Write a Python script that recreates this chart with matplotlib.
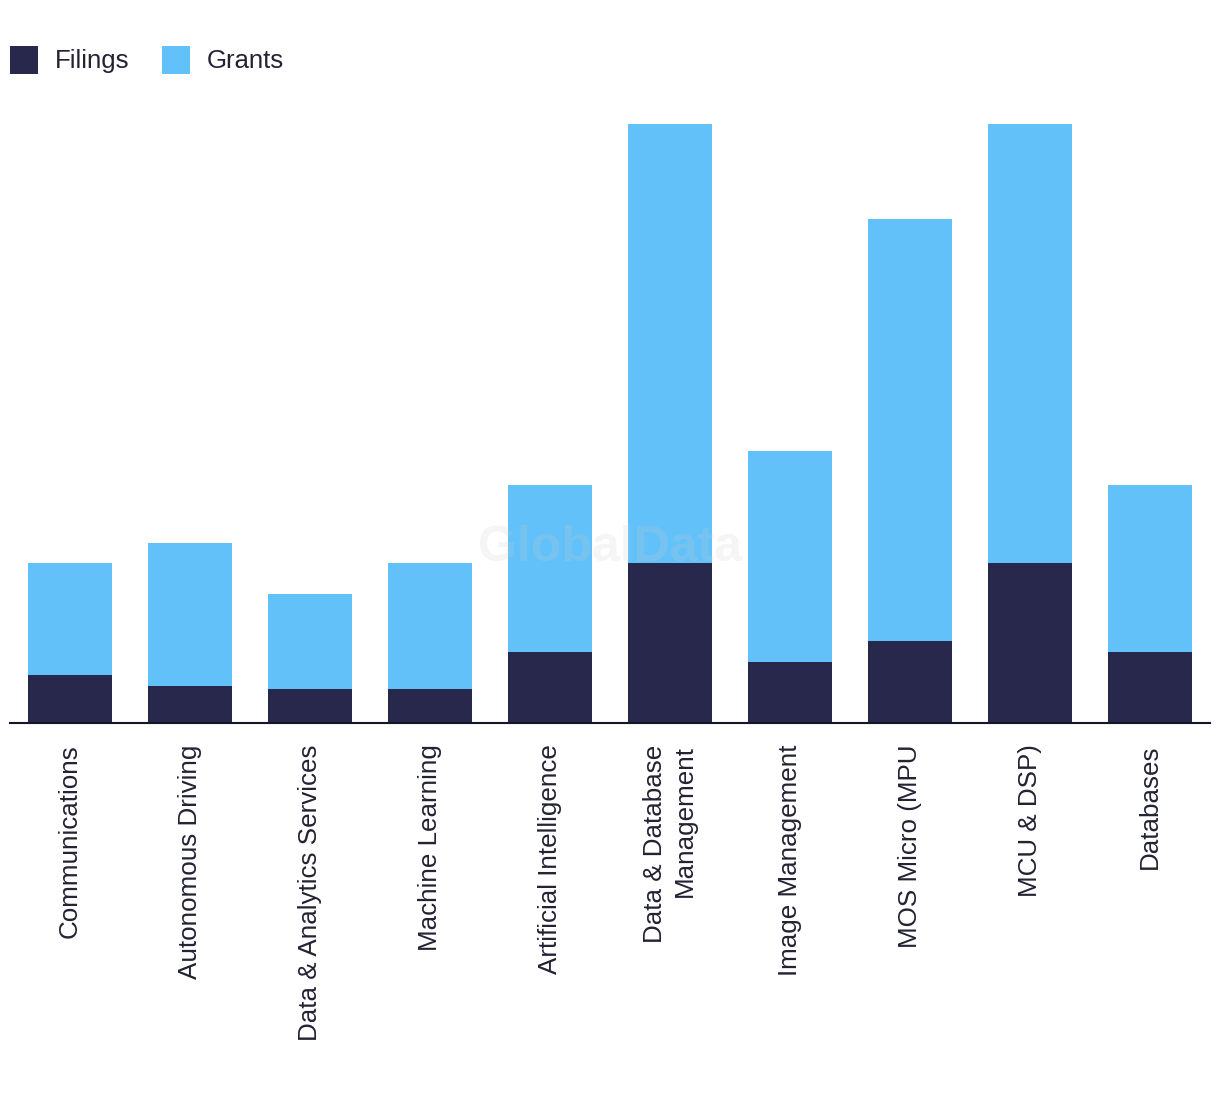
import numpy as np
import matplotlib
matplotlib.use("Agg")
import matplotlib.pyplot as plt

plt.rcParams['font.family'] = ['Liberation Sans', 'DejaVu Sans']

# categories and stacked values (filings at bottom, grants on top)
categories = ['Communications', 'Autonomous Driving', 'Data & Analytics Services',
              'Machine Learning', 'Artificial Intelligence', 'Data & Database\nManagement',
              'Image Management', 'MOS Micro (MPU', 'MCU & DSP)', 'Databases']
filings = [14, 11, 10, 10, 21, 47, 18, 24, 47, 21]
grants = [33, 42, 28, 37, 49, 129, 62, 124, 129, 49]

dark = '#27284B'
light = '#62C1F9'
textc = '#222233'

fig = plt.figure(figsize=(12.2, 10.94), dpi=100)
ax = fig.add_axes([10/1220, (1094-723)/1094, 1200/1220, 599/1094])

x = np.arange(len(categories))
b1 = ax.bar(x, filings, width=0.7, color=dark, label='Filings')
b2 = ax.bar(x, grants, width=0.7, bottom=filings, color=light, label='Grants')

ax.set_xlim(-0.5, len(categories) - 0.5)
ax.set_ylim(0, max(np.array(filings) + np.array(grants)))

for s in ['top', 'right', 'left']:
    ax.spines[s].set_visible(False)
ax.spines['bottom'].set_color('#141429')
ax.spines['bottom'].set_linewidth(1.5)
ax.set_yticks([])
ax.set_xticks(x)
ax.set_xticklabels(categories, rotation=90, fontsize=18.7, color=textc,
                   va='top', ha='center', multialignment='right', linespacing=1.3)
ax.tick_params(axis='x', length=0, pad=15.5)

# watermark
fig.text(610/1220, 1 - 548/1094, 'GlobalData', fontsize=36, fontweight='bold',
         color='#d0d0d0', alpha=0.2, ha='center', va='center')

fig.legend(handles=[b1, b2], loc='upper left', bbox_to_anchor=(10/1220, 1 - 46/1094),
           ncol=2, frameon=False, fontsize=18.5, handlelength=1.09, handleheight=1.27,
           handletextpad=0.66, columnspacing=1.25, borderpad=0, borderaxespad=0,
           labelcolor=textc)

fig.savefig('out.png', dpi=100)
